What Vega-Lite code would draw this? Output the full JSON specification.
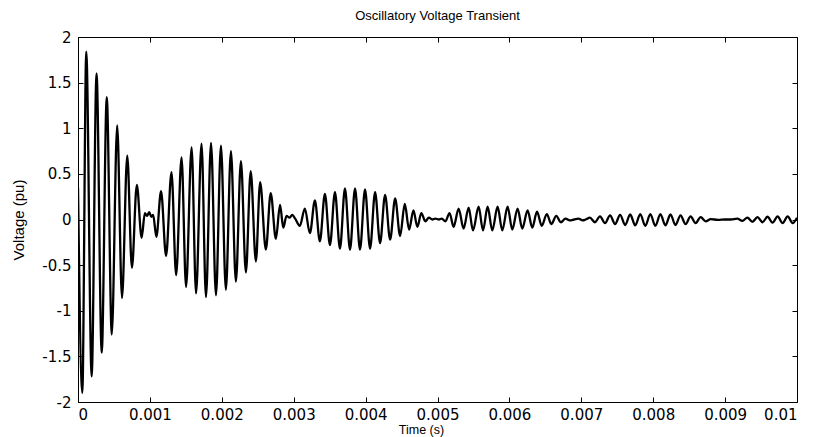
{
  "$schema": "https://vega.github.io/schema/vega-lite/v6.json",
  "autosize": {"type": "none"},
  "padding": {"left": 78, "top": 37, "right": 19, "bottom": 35},
  "width": 719,
  "height": 365,
  "background": "white",
  "title": {"text": "Oscillatory Voltage Transient", "font": "Liberation Sans", "fontSize": 13, "fontWeight": "normal", "color": "black", "anchor": "middle", "offset": 7},
  "data": {"values": [
    {"t": 0.000000, "v": 0.35},
    {"t": 0.000060, "v": -1.90},
    {"t": 0.000115, "v": 1.84},
    {"t": 0.000190, "v": -1.72},
    {"t": 0.000258, "v": 1.60},
    {"t": 0.000330, "v": -1.46},
    {"t": 0.000400, "v": 1.34},
    {"t": 0.000470, "v": -1.26},
    {"t": 0.000545, "v": 1.03},
    {"t": 0.000612, "v": -0.86},
    {"t": 0.000685, "v": 0.70},
    {"t": 0.000750, "v": -0.53},
    {"t": 0.000818, "v": 0.38},
    {"t": 0.000885, "v": -0.20},
    {"t": 0.000930, "v": 0.07},
    {"t": 0.000960, "v": 0.04},
    {"t": 0.000990, "v": 0.08},
    {"t": 0.001020, "v": 0.03},
    {"t": 0.001045, "v": 0.05},
    {"t": 0.001090, "v": -0.19},
    {"t": 0.001155, "v": 0.31},
    {"t": 0.001225, "v": -0.40},
    {"t": 0.001300, "v": 0.52},
    {"t": 0.001365, "v": -0.61},
    {"t": 0.001440, "v": 0.68},
    {"t": 0.001503, "v": -0.74},
    {"t": 0.001580, "v": 0.79},
    {"t": 0.001642, "v": -0.81},
    {"t": 0.001718, "v": 0.83},
    {"t": 0.001780, "v": -0.85},
    {"t": 0.001850, "v": 0.84},
    {"t": 0.001919, "v": -0.83},
    {"t": 0.001988, "v": 0.81},
    {"t": 0.002057, "v": -0.77},
    {"t": 0.002127, "v": 0.75},
    {"t": 0.002196, "v": -0.68},
    {"t": 0.002266, "v": 0.64},
    {"t": 0.002335, "v": -0.58},
    {"t": 0.002402, "v": 0.53},
    {"t": 0.002474, "v": -0.46},
    {"t": 0.002533, "v": 0.41},
    {"t": 0.002613, "v": -0.33},
    {"t": 0.002680, "v": 0.29},
    {"t": 0.002752, "v": -0.21},
    {"t": 0.002810, "v": 0.16},
    {"t": 0.002855, "v": -0.09},
    {"t": 0.002900, "v": 0.04},
    {"t": 0.002940, "v": 0.02},
    {"t": 0.002980, "v": 0.05},
    {"t": 0.003020, "v": 0.01},
    {"t": 0.003085, "v": -0.07},
    {"t": 0.003155, "v": 0.12},
    {"t": 0.003225, "v": -0.15},
    {"t": 0.003295, "v": 0.21},
    {"t": 0.003364, "v": -0.24},
    {"t": 0.003434, "v": 0.28},
    {"t": 0.003504, "v": -0.28},
    {"t": 0.003574, "v": 0.30},
    {"t": 0.003643, "v": -0.32},
    {"t": 0.003713, "v": 0.34},
    {"t": 0.003783, "v": -0.33},
    {"t": 0.003853, "v": 0.34},
    {"t": 0.003922, "v": -0.33},
    {"t": 0.003992, "v": 0.33},
    {"t": 0.004062, "v": -0.32},
    {"t": 0.004132, "v": 0.30},
    {"t": 0.004201, "v": -0.26},
    {"t": 0.004271, "v": 0.27},
    {"t": 0.004341, "v": -0.22},
    {"t": 0.004411, "v": 0.23},
    {"t": 0.004480, "v": -0.18},
    {"t": 0.004545, "v": 0.17},
    {"t": 0.004605, "v": -0.11},
    {"t": 0.004665, "v": 0.10},
    {"t": 0.004720, "v": -0.08},
    {"t": 0.004775, "v": 0.07},
    {"t": 0.004830, "v": -0.02},
    {"t": 0.004880, "v": 0.02},
    {"t": 0.004930, "v": 0.00},
    {"t": 0.004970, "v": 0.01},
    {"t": 0.005020, "v": 0.00},
    {"t": 0.005060, "v": 0.01},
    {"t": 0.005110, "v": -0.02},
    {"t": 0.005168, "v": 0.07},
    {"t": 0.005224, "v": -0.08},
    {"t": 0.005294, "v": 0.12},
    {"t": 0.005363, "v": -0.10},
    {"t": 0.005433, "v": 0.13},
    {"t": 0.005494, "v": -0.12},
    {"t": 0.005572, "v": 0.14},
    {"t": 0.005633, "v": -0.12},
    {"t": 0.005697, "v": 0.14},
    {"t": 0.005762, "v": -0.12},
    {"t": 0.005836, "v": 0.14},
    {"t": 0.005901, "v": -0.12},
    {"t": 0.005975, "v": 0.14},
    {"t": 0.006040, "v": -0.11},
    {"t": 0.006114, "v": 0.12},
    {"t": 0.006179, "v": -0.10},
    {"t": 0.006253, "v": 0.10},
    {"t": 0.006318, "v": -0.09},
    {"t": 0.006384, "v": 0.085},
    {"t": 0.006450, "v": -0.07},
    {"t": 0.006520, "v": 0.06},
    {"t": 0.006583, "v": -0.05},
    {"t": 0.006652, "v": 0.04},
    {"t": 0.006715, "v": -0.03},
    {"t": 0.006780, "v": 0.01},
    {"t": 0.006840, "v": -0.01},
    {"t": 0.006900, "v": 0.00},
    {"t": 0.006960, "v": 0.01},
    {"t": 0.007020, "v": -0.01},
    {"t": 0.007060, "v": 0.00},
    {"t": 0.007120, "v": 0.02},
    {"t": 0.007190, "v": -0.03},
    {"t": 0.007260, "v": 0.035},
    {"t": 0.007330, "v": -0.04},
    {"t": 0.007400, "v": 0.045},
    {"t": 0.007470, "v": -0.05},
    {"t": 0.007540, "v": 0.05},
    {"t": 0.007610, "v": -0.06},
    {"t": 0.007680, "v": 0.055},
    {"t": 0.007750, "v": -0.065},
    {"t": 0.007820, "v": 0.06},
    {"t": 0.007890, "v": -0.07},
    {"t": 0.007960, "v": 0.06},
    {"t": 0.008030, "v": -0.07},
    {"t": 0.008100, "v": 0.06},
    {"t": 0.008170, "v": -0.065},
    {"t": 0.008240, "v": 0.055},
    {"t": 0.008310, "v": -0.06},
    {"t": 0.008380, "v": 0.045},
    {"t": 0.008450, "v": -0.05},
    {"t": 0.008520, "v": 0.035},
    {"t": 0.008590, "v": -0.04},
    {"t": 0.008660, "v": 0.025},
    {"t": 0.008730, "v": -0.02},
    {"t": 0.008800, "v": 0.005},
    {"t": 0.008900, "v": -0.005},
    {"t": 0.009000, "v": 0.00},
    {"t": 0.009080, "v": 0.00},
    {"t": 0.009170, "v": 0.01},
    {"t": 0.009240, "v": -0.015},
    {"t": 0.009310, "v": 0.02},
    {"t": 0.009380, "v": -0.025},
    {"t": 0.009450, "v": 0.025},
    {"t": 0.009520, "v": -0.03},
    {"t": 0.009590, "v": 0.03},
    {"t": 0.009660, "v": -0.035},
    {"t": 0.009730, "v": 0.035},
    {"t": 0.009800, "v": -0.04},
    {"t": 0.009870, "v": 0.035},
    {"t": 0.009940, "v": -0.04},
    {"t": 0.010000, "v": 0.02}
  ]},
  "layer": [
    {
      "mark": {"type": "line", "color": "black", "strokeWidth": 2.3, "interpolate": "monotone", "clip": true},
      "encoding": {
        "x": {"field": "t", "type": "quantitative",
              "scale": {"domain": [0, 0.01], "nice": false, "zero": false},
              "axis": {"orient": "bottom", "title": "Time (s)", "values": [0, 0.001, 0.002, 0.003, 0.004, 0.005, 0.006, 0.007, 0.008, 0.009, 0.01], "labelExpr": "'' + datum.value", "labelPadding": 10, "titlePadding": 1, "titleFontSize": 12.5, "titleX": 343, "titleAlign": "center"}},
        "y": {"field": "v", "type": "quantitative",
              "scale": {"domain": [-2, 2], "nice": false, "zero": false},
              "axis": {"orient": "left", "title": "Voltage (pu)", "values": [-2, -1.5, -1, -0.5, 0, 0.5, 1, 1.5, 2], "labelExpr": "'' + datum.value", "labelPadding": 12, "titlePadding": 15, "titleFontSize": 15}}
      }
    },
    {
      "mark": {"type": "line", "opacity": 0},
      "encoding": {
        "x": {"field": "t", "type": "quantitative",
              "axis": {"orient": "top", "title": null, "labels": false, "values": [0, 0.001, 0.002, 0.003, 0.004, 0.005, 0.006, 0.007, 0.008, 0.009, 0.01]}},
        "y": {"field": "v", "type": "quantitative",
              "axis": {"orient": "right", "title": null, "labels": false, "values": [-2, -1.5, -1, -0.5, 0, 0.5, 1, 1.5, 2]}}
      }
    }
  ],
  "resolve": {"axis": {"x": "independent", "y": "independent"}},
  "config": {
    "view": {"stroke": "black", "strokeWidth": 1},
    "axis": {"grid": false, "domain": false, "ticks": true, "tickSize": -5, "tickColor": "black", "tickWidth": 1,
             "labelColor": "black", "titleColor": "black", "labelFont": "DejaVu Sans", "titleFont": "Liberation Sans",
             "labelFontSize": 15, "titleFontSize": 13, "titleFontWeight": "normal"}
  }
}
